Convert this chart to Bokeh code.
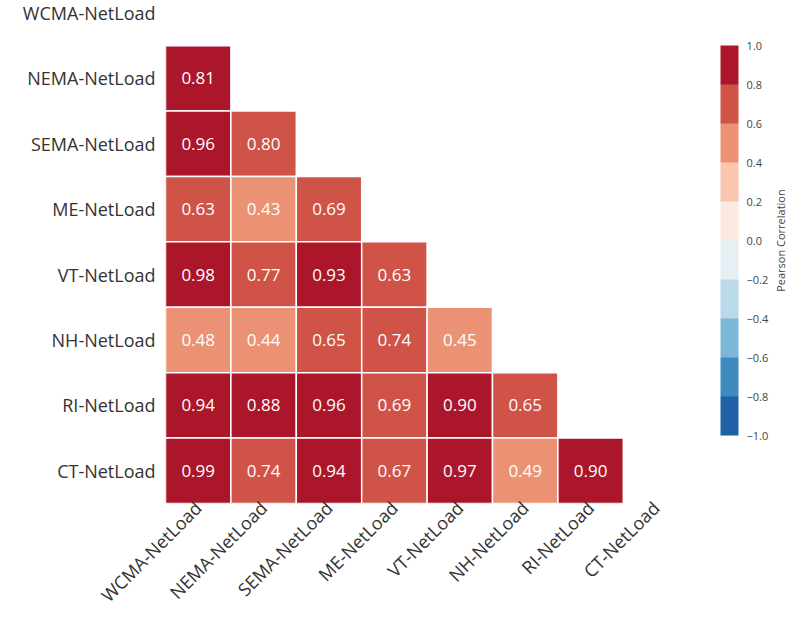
import math

from bokeh.core.properties import value
from bokeh.embed import file_html
from bokeh.models import (ColorBar, ColumnDataSource, FixedTicker, Label,
                          LinearColorMapper, Range1d)
from bokeh.plotting import figure
from bokeh.resources import INLINE
from bokeh.transform import transform

# Regions, ordered top-to-bottom on the y axis and left-to-right on the x axis
regions = ["WCMA-NetLoad", "NEMA-NetLoad", "SEMA-NetLoad", "ME-NetLoad",
           "VT-NetLoad", "NH-NetLoad", "RI-NetLoad", "CT-NetLoad"]

# Lower-triangle Pearson correlations (row i holds columns 0..i-1)
corr_rows = [
    [],
    [0.81],
    [0.96, 0.798],
    [0.63, 0.43, 0.69],
    [0.98, 0.77, 0.93, 0.63],
    [0.48, 0.44, 0.65, 0.74, 0.45],
    [0.94, 0.88, 0.96, 0.69, 0.90, 0.65],
    [0.99, 0.74, 0.94, 0.67, 0.97, 0.49, 0.90],
]

# Diverging palette (blue -> red), ten equal steps over [-1, 1]
palette = ["#1e61a5", "#3d8bbf", "#7cb7d7", "#bad9e9", "#e6eff4",
           "#faeae1", "#fac7ae", "#ec9274", "#cf5347", "#ab162a"]

cbar_ticks = [-1.0, -0.8, -0.6, -0.4, -0.2, 0.0, 0.2, 0.4, 0.6, 0.8, 1.0]
cbar_labels = ["\u22121.0", "\u22120.8", "\u22120.6", "\u22120.4", "\u22120.2",
               "0.0", "0.2", "0.4", "0.6", "0.8", "1.0"]

FONT = "Open Sans"
n = len(regions)

xs, ys, rs, labels = [], [], [], []
for i, row in enumerate(corr_rows):
    for j, r in enumerate(row):
        xs.append(j + 0.5)
        ys.append(n - 0.5 - i)
        rs.append(r)
        labels.append(f"{r:.2f}")

src = ColumnDataSource(dict(x=xs, y=ys, r=rs, label=labels))

p = figure(width=794, height=619, output_backend="svg", toolbar_location=None,
           x_range=Range1d(0, 9.618), y_range=Range1d(0, 7.69),
           min_border_left=165, min_border_right=0, min_border_top=0,
           min_border_bottom=116)
p.outline_line_color = None
p.grid.visible = False
p.background_fill_color = "white"

mapper = LinearColorMapper(palette=palette, low=-1, high=1)

p.rect(x="x", y="y", width=1, height=1, source=src,
       fill_color=transform("r", mapper), line_color="white", line_width=1.5)
p.text(x="x", y="y", text="label", source=src, text_color="white",
       text_font=value(FONT), text_font_size="17px",
       text_align="center", text_baseline="middle")

centers = [k + 0.5 for k in range(n)]
for ax in (p.xaxis[0], p.yaxis[0]):
    ax.axis_line_color = None
    ax.major_tick_line_color = None
    ax.minor_tick_line_color = None
    ax.major_tick_out = 0
    ax.major_tick_in = 0
    ax.minor_tick_out = 0
    ax.minor_tick_in = 0
    ax.major_label_text_font = FONT
    ax.major_label_text_font_size = "18px"
    ax.major_label_text_color = "#333333"

p.xaxis.ticker = FixedTicker(ticks=centers)
p.xaxis.major_label_overrides = {c: regions[k] for k, c in enumerate(centers)}
p.xaxis.major_label_orientation = math.pi / 4
p.xaxis.major_label_standoff = 1

p.yaxis.ticker = FixedTicker(ticks=centers)
p.yaxis.major_label_overrides = {c: regions[n - 1 - k] for k, c in enumerate(centers)}
p.yaxis.major_label_standoff = 10

cbar = ColorBar(color_mapper=mapper, width=18, height=390,
                ticker=FixedTicker(ticks=cbar_ticks),
                major_label_overrides=dict(zip(cbar_ticks, cbar_labels)),
                major_label_text_font=FONT, major_label_text_font_size="11px",
                major_label_text_color="#444444", label_standoff=8,
                major_tick_line_color=None, minor_tick_line_color=None,
                bar_line_color=None, border_line_color=None,
                background_fill_color=None, padding=0, margin=0,
                location=(555, 68), title=None)
p.add_layout(cbar)

p.add_layout(Label(x=9.40, y=4.02, text="Pearson Correlation", angle=math.pi / 2,
                   text_font=FONT, text_font_size="11px", text_color="#444444",
                   text_align="center", text_baseline="middle"))

open("out.html", "w").write(file_html(p, INLINE))
